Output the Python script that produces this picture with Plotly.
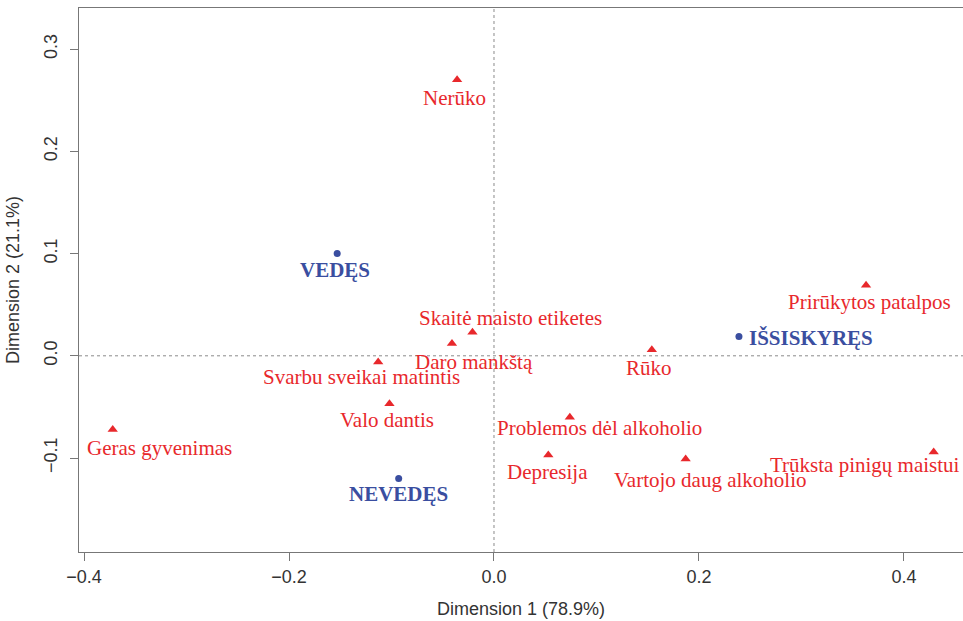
import plotly.graph_objects as go

# Row categories (red triangles)
row_labels = ["Nerūko", "Skaitė maisto etiketes", "Daro mankštą", "Svarbu sveikai matintis",
              "Valo dantis", "Geras gyvenimas", "Depresija", "Problemos dėl alkoholio",
              "Rūko", "Vartojo daug alkoholio", "Prirūkytos patalpos", "Trūksta pinigų maistui"]
row_x = [-0.036, -0.021, -0.041, -0.113, -0.102, -0.372, 0.053, 0.074, 0.154, 0.187, 0.363, 0.429]
row_y = [0.270, 0.023, 0.012, -0.006, -0.047, -0.072, -0.097, -0.060, 0.006, -0.101, 0.069, -0.094]

# Column categories (blue dots)
col_labels = ["VEDĘS", "NEVEDĘS", "IŠSISKYRĘS"]
col_x = [-0.153, -0.093, 0.239]
col_y = [0.100, -0.120, 0.019]

x_ticks = [-0.4, -0.2, 0.0, 0.2, 0.4]
y_ticks = [-0.1, 0.0, 0.1, 0.2, 0.3]

RED = "#e8282c"
BLUE = "#3a4ea0"
SERIF = "Liberation Serif, Times New Roman, serif"
SANS = "Liberation Sans, Arial, sans-serif"

# label offsets (px): (xshift, yshift, xanchor)
row_off = [(-3, -18, "center"), (38, 14, "center"), (22, -18, "center"), (-17, -15, "center"),
           (-2, -16, "center"), (47, -19, "center"), (-1, -17, "center"), (30, -11, "center"),
           (-3, -18, "center"), (24, -21, "center"), (3, -17, "center"), (-69, -13, "center")]
col_off = [(-2, -16, "center"), (0, -16, "center"), (8, -2, "left")]

fig = go.Figure()
fig.add_trace(go.Scatter(x=row_x, y=row_y, mode="markers",
                         marker=dict(symbol="triangle-up", size=9, color=RED),
                         showlegend=False, hoverinfo="skip", cliponaxis=False))
fig.add_trace(go.Scatter(x=col_x, y=col_y, mode="markers",
                         marker=dict(symbol="circle", size=7, color=BLUE),
                         showlegend=False, hoverinfo="skip"))

annotations = []
for lab, x, y, (dx, dy, xa) in zip(row_labels, row_x, row_y, row_off):
    annotations.append(dict(x=x, y=y, text=lab, showarrow=False, xshift=dx, yshift=dy,
                            xanchor=xa, yanchor="middle",
                            font=dict(family=SERIF, size=21, color=RED)))
for lab, x, y, (dx, dy, xa) in zip(col_labels, col_x, col_y, col_off):
    annotations.append(dict(x=x, y=y, text="<b>" + lab + "</b>", showarrow=False, xshift=dx, yshift=dy,
                            xanchor=xa, yanchor="middle",
                            font=dict(family=SERIF, size=21, color=BLUE)))

shapes = [
    dict(type="line", xref="x", yref="paper", x0=0, x1=0, y0=0, y1=1,
         line=dict(color="#8a8a8a", width=1, dash="dot"), layer="below"),
    dict(type="line", xref="paper", yref="y", x0=0, x1=1, y0=0, y1=0,
         line=dict(color="#8a8a8a", width=1, dash="dot"), layer="below"),
]

fig.update_layout(
    width=963, height=621,
    margin=dict(l=79, r=0, t=8, b=69),
    plot_bgcolor="white", paper_bgcolor="white",
    annotations=annotations, shapes=shapes,
    xaxis=dict(range=[-0.4049, 0.4576], tickvals=x_ticks,
               ticktext=["\u22120.4", "\u22120.2", "0.0", "0.2", "0.4"],
               showgrid=False, zeroline=False, showline=True, mirror=True,
               linecolor="#777777", linewidth=1.3, ticks="outside", ticklen=8,
               tickcolor="#777777", tickfont=dict(family=SANS, size=18, color="#333333"),
               title=dict(text="Dimension 1 (78.9%)", font=dict(family=SANS, size=18, color="#333333"),
                          standoff=16)),
    yaxis=dict(range=[-0.1919, 0.3402], tickvals=y_ticks,
               ticktext=["\u22120.1", "0.0", "0.1", "0.2", "0.3"],
               showgrid=False, zeroline=False, showline=True, mirror=False,
               linecolor="#777777", linewidth=1.3, ticks="outside", ticklen=8,
               tickcolor="#777777", tickangle=-90, ticklabelstandoff=6,
               tickfont=dict(family=SANS, size=18, color="#333333"),
               title=dict(text="Dimension 2 (21.1%)", font=dict(family=SANS, size=18, color="#333333"),
                          standoff=16)),
)

fig.write_html("out.html", config={"displayModeBar": False},
               post_script="document.body.style.margin='0';document.body.style.overflow='hidden';")
